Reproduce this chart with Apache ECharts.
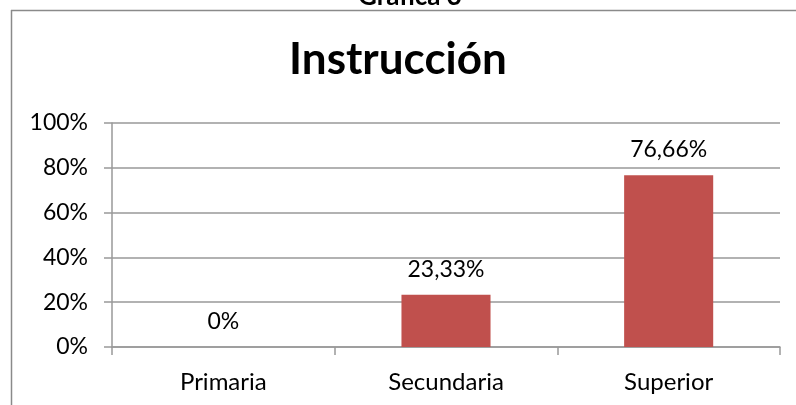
<!DOCTYPE html>
<html>
<head>
<meta charset="utf-8">
<script src="https://cdn.jsdelivr.net/npm/echarts@6/dist/echarts.min.js"></script>
<style>
  html,body{margin:0;padding:0;background:#fff;}
  #chart{width:796px;height:405px;}
</style>
</head>
<body>
<div id="chart"></div>
<script>
const categories=['Primaria','Secundaria','Superior'];
const values=[0,23.33,76.66];
const yTicks=[0,20,40,60,80,100];

const FONT='Lato';
const chart=echarts.init(document.getElementById('chart'));

//formato con coma decimal
const fmt=v=>v===0?'0%':v.toFixed(2).replace('.',',')+'%';

chart.setOption({
    animation:false,
    backgroundColor:'#ffffff',
    title:{
        text:'Instrucción',
        left:'center',
        top:33,
        textStyle:{fontFamily:FONT,fontWeight:'bold',fontSize:44,color:'#000'}
    },
    graphic:[
        {type:'line',shape:{x1:11,y1:10.5,x2:796,y2:10.5},style:{stroke:'#8a8a8a',lineWidth:1.5}},
        {type:'line',shape:{x1:11.5,y1:10,x2:11.5,y2:405},style:{stroke:'#8a8a8a',lineWidth:1.5}},
        {type:'text',x:410,y:10,style:{text:'Gráfica 3',fontFamily:FONT,fontWeight:'bold',fontSize:26,fill:'#000',align:'center',verticalAlign:'bottom'}}
    ],
    grid:{left:112,right:16,top:123,bottom:58},
    xAxis:{
        type:'category',
        data:categories,
        boundaryGap:true,
        axisLine:{lineStyle:{color:'#999',width:1.5}},
        axisTick:{show:true,length:8,lineStyle:{color:'#999',width:1.5}},
        axisLabel:{margin:23,fontFamily:FONT,fontSize:24,color:'#000'}
    },
    yAxis:{
        type:'value',
        min:yTicks[0],
        max:yTicks[yTicks.length-1],
        interval:20,
        axisLine:{show:true,lineStyle:{color:'#999',width:1.5}},
        axisTick:{show:true,length:8,lineStyle:{color:'#999',width:1.5}},
        splitLine:{lineStyle:{color:'#999',width:1.5}},
        axisLabel:{margin:24,formatter:'{value}%',fontFamily:FONT,fontSize:23,color:'#000'}
    },
    series:[{
        type:'bar',
        data:values,
        barWidth:'40%',
        itemStyle:{color:'#C0504D'},
        label:{
            show:true,
            position:'top',
            distance:14,
            formatter:p=>fmt(p.value),
            fontFamily:FONT,fontSize:23,color:'#000'
        }
    }]
});
</script>
</body>
</html>
